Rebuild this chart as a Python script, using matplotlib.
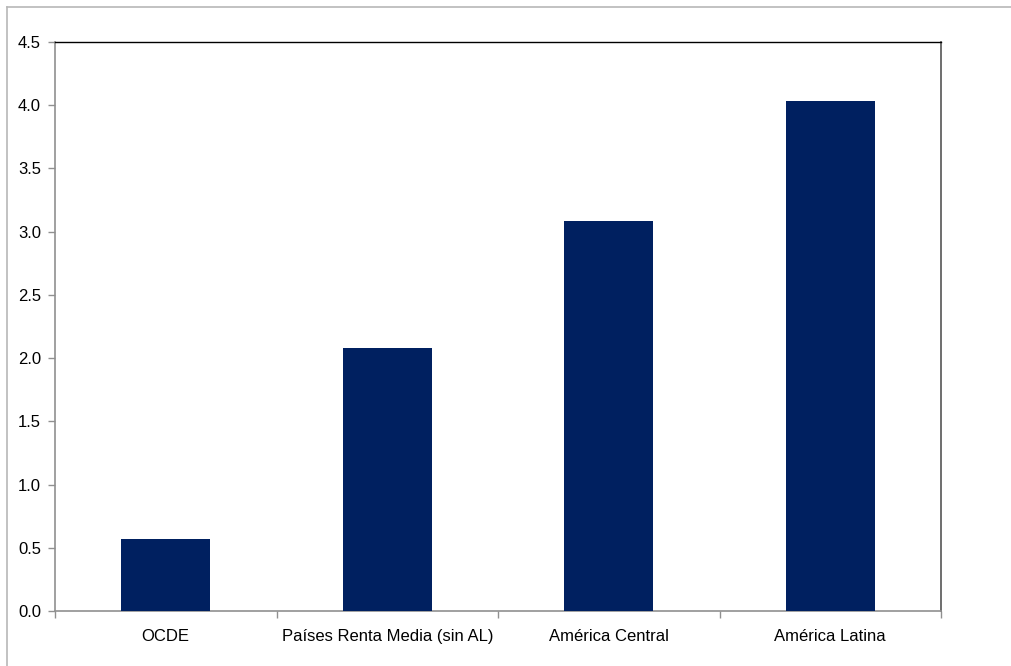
import matplotlib
matplotlib.use("Agg")
import matplotlib.pyplot as plt
from matplotlib.lines import Line2D
import numpy as np

categories = ["OCDE", "Países Renta Media (sin AL)", "América Central", "América Latina"]
values = [0.57, 2.08, 3.085, 4.035]
yticks = [0.0, 0.5, 1.0, 1.5, 2.0, 2.5, 3.0, 3.5, 4.0, 4.5]

plt.rcParams["font.family"] = ["Liberation Sans", "DejaVu Sans"]

W, H = 1011, 666
fig = plt.figure(figsize=(W / 100, H / 100), dpi=100)
ax = fig.add_axes([55 / W, 1 - 611 / H, (941 - 55) / W, (611 - 42) / H])

x = np.arange(len(categories))
ax.bar(x, values, width=0.4, color="#002060", edgecolor="none", zorder=3)

ax.set_xlim(-0.5, len(categories) - 0.5)
ax.set_ylim(0, 4.5)
ax.set_yticks(yticks)
ax.set_yticklabels([f"{v:.1f}" for v in yticks], fontsize=12)

# category labels between boundary ticks
ax.set_xticks(np.arange(len(categories) + 1) - 0.5)
ax.set_xticklabels([])
ax.set_xticks(x, minor=True)
ax.set_xticklabels(categories, minor=True, fontsize=12)
ax.tick_params(axis="x", which="minor", length=0, pad=13)
ax.tick_params(axis="x", which="major", length=5, width=1, color="#909090", direction="out")
ax.tick_params(axis="y", length=5, width=1, color="#909090", direction="out", pad=5)

ax.spines["left"].set_color("#909090")
ax.spines["bottom"].set_color("#909090")
ax.spines["left"].set_linewidth(1.2)
ax.spines["bottom"].set_linewidth(1.2)
ax.spines["top"].set_color("#000000")
ax.spines["right"].set_color("#555555")
ax.spines["top"].set_linewidth(1.0)
ax.spines["right"].set_linewidth(1.2)

# chart-area border (top and left edges)
fig.add_artist(Line2D([7 / W, 1.0], [1 - 7 / H, 1 - 7 / H], color="#b8b8b8", lw=1.2, transform=fig.transFigure))
fig.add_artist(Line2D([7 / W, 7 / W], [0.0, 1 - 7 / H], color="#b8b8b8", lw=1.2, transform=fig.transFigure))

fig.savefig("out.png", dpi=100)
